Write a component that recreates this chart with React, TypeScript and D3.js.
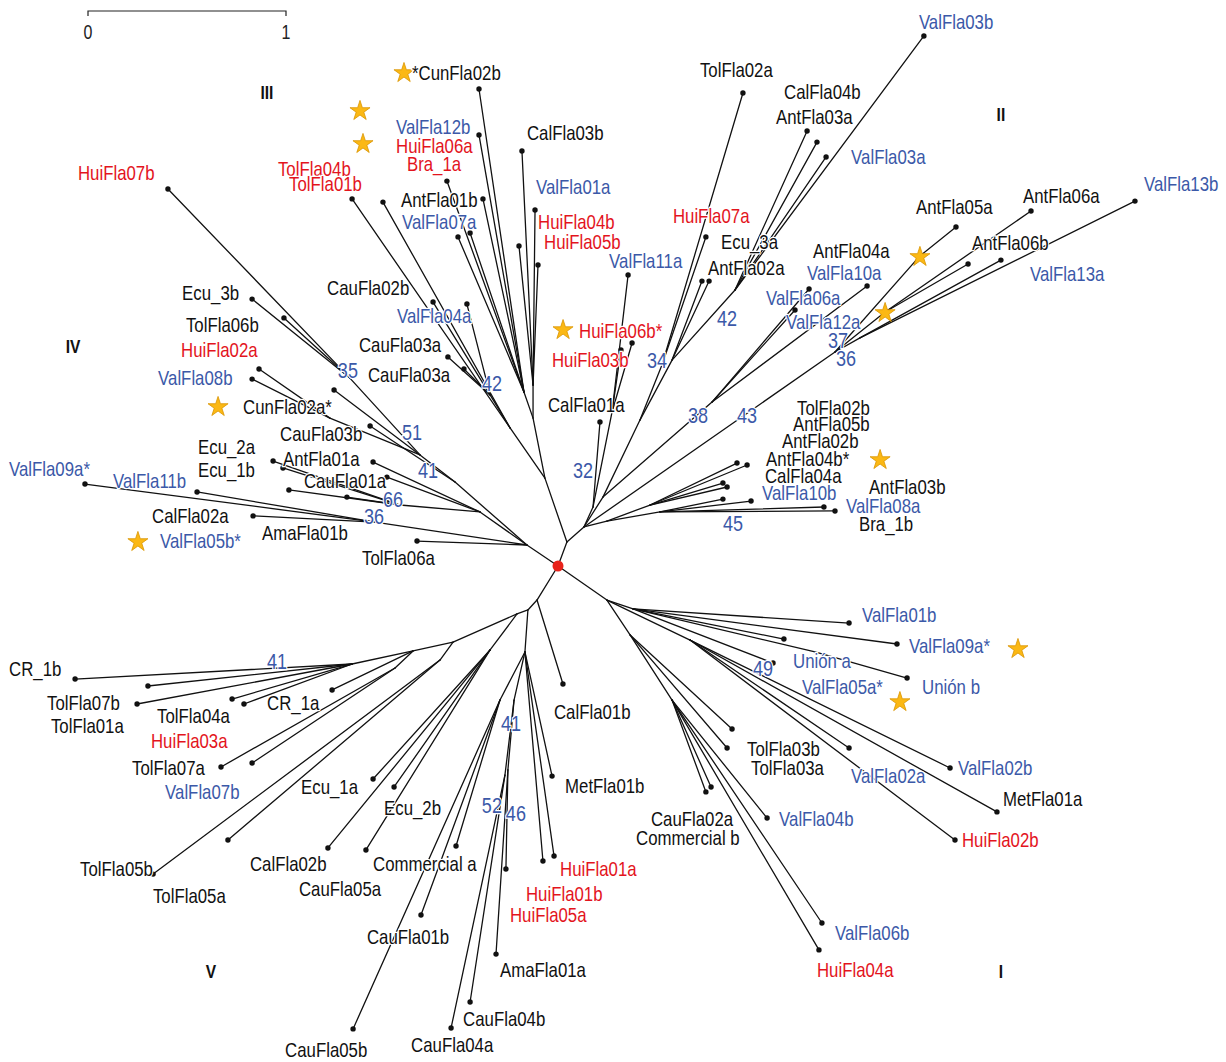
import React from 'react';
import * as d3 from 'd3';

// Unrooted flagellin tree. Each row: [id, parent, x, y], coordinates in
// substitutions per site measured from the root (y grows downwards).
type TreeRow = [string, string | null, number, number];

const treeNodes: TreeRow[] = [
  ['root', null, 0, 0],
  ['u1', 'root', 0.045, -0.121],
  // clade III
  ['n3', 'u1', -0.066, -0.444],
  ['n3up', 'n3', -0.126, -0.747],
  ['n3uA', 'n3up', -0.172, -0.879],
  ['CunFla02b', 'n3uA', -0.399, -2.409],
  ['ValFla12b', 'n3uA', -0.399, -2.177],
  ['AntFla01b', 'n3uA', -0.379, -1.854],
  ['Bra_1a', 'n3uA', -0.561, -1.944],
  ['ValFla07a', 'n3uA', -0.505, -1.662],
  ['tip07', 'n3uA', -0.444, -1.682],
  ['n3uB', 'n3up', -0.126, -0.914],
  ['CalFla03b', 'n3uB', -0.182, -2.096],
  ['ValFla01a', 'n3uB', -0.116, -1.798],
  ['HuiFla04b', 'n3uB', -0.197, -1.616],
  ['HuiFla05b', 'n3uB', -0.101, -1.52],
  ['n3left', 'n3', -0.242, -0.697],
  ['TolFla01b', 'n3left', -1.04, -1.854],
  ['TolFla04b', 'n3left', -0.884, -1.838],
  ['n3l2', 'n3left', -0.343, -0.864],
  ['CauFla02b', 'n3l2', -0.631, -1.333],
  ['ValFla04a', 'n3l2', -0.46, -1.323],
  ['CauFla03a', 'n3l2', -0.556, -1.056],
  ['CauFla03a_2', 'n3l2', -0.475, -0.995],
  // clade II
  ['c2', 'u1', 0.131, -0.197],
  ['c32', 'c2', 0.177, -0.298],
  ['CalFla01a', 'c32', 0.212, -0.727],
  ['c32b', 'c32', 0.273, -0.778],
  ['HuiFla06b', 'c32b', 0.374, -1.126],
  ['HuiFla03b', 'c32b', 0.318, -1.091],
  ['ValFla11a', 'c32b', 0.354, -1.47],
  ['cUp', 'c2', 0.227, -0.348],
  ['c34a', 'cUp', 0.414, -0.737],
  ['c34', 'c34a', 0.525, -1.015],
  ['TolFla02a', 'c34', 0.934, -2.389],
  ['HuiFla07a', 'c34', 0.747, -1.662],
  ['c42', 'c34a', 0.576, -1.04],
  ['AntFla02a', 'c42', 0.727, -1.439],
  ['Ecu_3a', 'c42', 0.763, -1.439],
  ['c42b', 'c42', 0.894, -1.394],
  ['CalFla04b', 'c42b', 1.258, -2.197],
  ['AntFla03a', 'c42b', 1.308, -2.141],
  ['ValFla03a', 'c42b', 1.354, -2.066],
  ['ValFla03b', 'c42b', 1.848, -2.677],
  ['c38', 'cUp', 0.778, -0.828],
  ['ValFla06a', 'c38', 1.197, -1.293],
  ['ValFla10a', 'c38', 1.268, -1.399],
  ['AntFla04a', 'c38', 1.561, -1.414],
  ['c43', 'c2', 1.399, -1.081],
  ['s43a', 'c43', 1.828, -1.566],
  ['AntFla05a', 's43a', 2.01, -1.712],
  ['s43b', 'c43', 1.652, -1.283],
  ['AntFla06b', 's43b', 2.071, -1.525],
  ['AntFla06a', 's43b', 2.389, -1.793],
  ['c43c', 'c43', 1.525, -1.152],
  ['ValFla13a', 'c43c', 2.237, -1.545],
  ['ValFla13b', 'c43c', 2.914, -1.843],
  ['c45', 'c2', 0.247, -0.227],
  ['c45a', 'c45', 0.465, -0.308],
  ['TolFla02b', 'c45a', 0.904, -0.52],
  ['AntFla05b', 'c45a', 0.955, -0.51],
  ['AntFla02b', 'c45a', 0.833, -0.419],
  ['AntFla04b', 'c45a', 0.854, -0.399],
  ['c45b', 'c45', 0.515, -0.273],
  ['CalFla04a', 'c45b', 0.833, -0.338],
  ['ValFla10b', 'c45b', 0.975, -0.328],
  ['AntFla03b', 'c45b', 1.343, -0.298],
  ['ValFla08a', 'c45b', 1.399, -0.278],
  // clade IV
  ['n4', 'root', -0.157, -0.106],
  ['TolFla06a', 'n4', -0.712, -0.126],
  ['n36', 'n4', -0.924, -0.222],
  ['ValFla09a', 'n36', -2.389, -0.414],
  ['ValFla11b', 'n36', -1.823, -0.374],
  ['CalFla02a', 'n36', -1.54, -0.253],
  ['n4b', 'n4', -0.394, -0.273],
  ['AntFla01a', 'n4b', -0.934, -0.525],
  ['CauFla01a', 'n4b', -0.864, -0.449],
  ['n66', 'n4b', -0.798, -0.308],
  ['Ecu_2a', 'n66', -1.439, -0.53],
  ['Ecu_1b', 'n66', -1.389, -0.495],
  ['ValFla05b', 'n66', -1.359, -0.384],
  ['AmaFla01b', 'n66', -1.066, -0.348],
  ['n41', 'n4', -0.52, -0.424],
  ['CauFla03b', 'n41', -0.949, -0.707],
  ['n51', 'n41', -0.697, -0.561],
  ['CunFla02a', 'n51', -1.131, -0.889],
  ['n08', 'n51', -1.152, -0.747],
  ['HuiFla02a', 'n08', -1.51, -0.995],
  ['ValFla08b', 'n08', -1.545, -0.944],
  ['n35', 'n51', -1.051, -0.949],
  ['HuiFla07b', 'n35', -1.97, -1.904],
  ['Ecu_3b', 'n35', -1.545, -1.348],
  ['TolFla06b', 'n35', -1.384, -1.253],
  // clade V
  ['b', 'root', -0.106, 0.172],
  ['CalFla01b', 'b', 0.025, 0.596],
  ['c', 'b', -0.152, 0.222],
  ['cl', 'c', -0.207, 0.242],
  ['v1', 'cl', -0.53, 0.384],
  ['v1a', 'v1', -0.732, 0.429],
  ['n41c', 'v1a', -1.04, 0.495],
  ['CR_1b', 'n41c', -2.439, 0.571],
  ['TolFla01a', 'n41c', -2.071, 0.606],
  ['TolFla07b', 'n41c', -2.126, 0.697],
  ['TolFla04a', 'n41c', -1.646, 0.672],
  ['HuiFla03a', 'n41c', -1.586, 0.697],
  ['CR_1a', 'v1a', -1.141, 0.626],
  ['v1b', 'v1a', -0.823, 0.515],
  ['TolFla07a', 'v1b', -1.702, 1.015],
  ['ValFla07b', 'v1b', -1.545, 0.995],
  ['v1c', 'v1', -0.596, 0.475],
  ['TolFla05b', 'v1c', -2.045, 1.556],
  ['TolFla05a', 'v1c', -1.667, 1.384],
  ['v2', 'cl', -0.343, 0.424],
  ['Ecu_1a', 'v2', -0.934, 1.076],
  ['Ecu_2b', 'v2', -0.828, 1.116],
  ['CalFla02b', 'v2', -1.162, 1.424],
  ['CauFla05a', 'v2', -0.97, 1.434],
  ['cd', 'c', -0.167, 0.434],
  ['MetFla01b', 'cd', -0.03, 1.061],
  ['HuiFla01a', 'cd', -0.02, 1.465],
  ['HuiFla01b', 'cd', -0.076, 1.49],
  ['cd2', 'cd', -0.293, 0.677],
  ['CommercialA', 'cd2', -0.515, 1.414],
  ['CauFla01b', 'cd2', -0.692, 1.763],
  ['CauFla05b', 'cd2', -1.035, 2.338],
  ['n41d', 'cd', -0.222, 0.677],
  ['n46', 'n41d', -0.253, 1.03],
  ['HuiFla05a', 'n46', -0.263, 1.53],
  ['AmaFla01a', 'n46', -0.313, 1.96],
  ['n52', 'n41d', -0.268, 1.056],
  ['CauFla04b', 'n52', -0.444, 2.202],
  ['CauFla04a', 'n52', -0.54, 2.333],
  // clade I
  ['d', 'root', 0.247, 0.172],
  ['d1', 'd', 0.379, 0.217],
  ['ValFla01b', 'd1', 1.47, 0.288],
  ['ValFla09a_b', 'd1', 1.712, 0.394],
  ['ValFla05a', 'd1', 1.141, 0.369],
  ['UnionA', 'd1', 1.086, 0.49],
  ['nUb', 'd1', 1.298, 0.434],
  ['UnionB', 'nUb', 1.763, 0.566],
  ['n49', 'd', 0.667, 0.374],
  ['ValFla02a', 'n49', 1.47, 0.919],
  ['ValFla02b', 'n49', 1.98, 1.02],
  ['MetFla01a', 'n49', 2.217, 1.242],
  ['HuiFla02b', 'n49', 2.005, 1.384],
  ['d2', 'd', 0.364, 0.348],
  ['TolFla03b', 'd2', 0.879, 0.823],
  ['TolFla03a', 'd2', 0.854, 0.919],
  ['d2a', 'd2', 0.576, 0.677],
  ['CauFla02a', 'd2a', 0.747, 1.141],
  ['CommercialB', 'd2a', 0.773, 1.116],
  ['ValFla04b', 'd2a', 1.056, 1.273],
  ['ValFla06b', 'd2a', 1.333, 1.803],
  ['HuiFla04a', 'd2a', 1.318, 1.939],
];

// Tip names: [text, tip node]
const tipLabels: [string, string][] = [
  ['*CunFla02b', 'CunFla02b'], ['ValFla12b', 'ValFla12b'], ['HuiFla06a', 'ValFla12b'],
  ['Bra_1a', 'Bra_1a'], ['CalFla03b', 'CalFla03b'], ['ValFla01a', 'ValFla01a'],
  ['HuiFla07b', 'HuiFla07b'], ['TolFla04b', 'TolFla04b'], ['TolFla01b', 'TolFla01b'],
  ['AntFla01b', 'AntFla01b'], ['ValFla07a', 'ValFla07a'], ['HuiFla04b', 'HuiFla04b'],
  ['HuiFla05b', 'HuiFla05b'], ['ValFla11a', 'ValFla11a'], ['TolFla02a', 'TolFla02a'],
  ['CalFla04b', 'CalFla04b'], ['AntFla03a', 'AntFla03a'], ['ValFla03b', 'ValFla03b'],
  ['ValFla03a', 'ValFla03a'], ['ValFla13b', 'ValFla13b'], ['AntFla05a', 'AntFla05a'],
  ['AntFla06a', 'AntFla06a'], ['HuiFla07a', 'HuiFla07a'], ['Ecu_3a', 'Ecu_3a'],
  ['AntFla02a', 'AntFla02a'], ['AntFla04a', 'AntFla04a'], ['ValFla10a', 'ValFla10a'],
  ['AntFla06b', 'AntFla06b'], ['ValFla13a', 'ValFla13a'], ['ValFla06a', 'ValFla06a'],
  ['ValFla12a', 'ValFla06a'], ['Ecu_3b', 'Ecu_3b'], ['CauFla02b', 'CauFla02b'],
  ['TolFla06b', 'TolFla06b'], ['ValFla04a', 'ValFla04a'], ['HuiFla06b*', 'HuiFla06b'],
  ['HuiFla02a', 'HuiFla02a'], ['CauFla03a', 'CauFla03a'], ['CauFla03a', 'CauFla03a_2'],
  ['HuiFla03b', 'HuiFla03b'], ['ValFla08b', 'ValFla08b'], ['CunFla02a*', 'CunFla02a'],
  ['CalFla01a', 'CalFla01a'], ['TolFla02b', 'TolFla02b'], ['AntFla05b', 'AntFla05b'],
  ['AntFla02b', 'AntFla02b'], ['AntFla04b*', 'AntFla04b'], ['CalFla04a', 'CalFla04a'],
  ['ValFla10b', 'ValFla10b'], ['AntFla03b', 'AntFla03b'], ['ValFla08a', 'ValFla08a'],
  ['Bra_1b', 'ValFla08a'], ['CauFla03b', 'CauFla03b'], ['Ecu_2a', 'Ecu_2a'],
  ['Ecu_1b', 'Ecu_1b'], ['AntFla01a', 'AntFla01a'], ['CauFla01a', 'CauFla01a'],
  ['ValFla09a*', 'ValFla09a'], ['ValFla11b', 'ValFla11b'], ['CalFla02a', 'CalFla02a'],
  ['ValFla05b*', 'ValFla05b'], ['AmaFla01b', 'AmaFla01b'], ['TolFla06a', 'TolFla06a'],
  ['ValFla01b', 'ValFla01b'], ['ValFla09a*', 'ValFla09a_b'], ['Unión a', 'UnionA'],
  ['Unión b', 'UnionB'], ['ValFla05a*', 'ValFla05a'], ['TolFla03b', 'TolFla03b'],
  ['TolFla03a', 'TolFla03a'], ['ValFla02a', 'ValFla02a'], ['ValFla02b', 'ValFla02b'],
  ['MetFla01a', 'MetFla01a'], ['CauFla02a', 'CauFla02a'], ['Commercial b', 'CommercialB'],
  ['ValFla04b', 'ValFla04b'], ['HuiFla02b', 'HuiFla02b'], ['ValFla06b', 'ValFla06b'],
  ['HuiFla04a', 'HuiFla04a'], ['CalFla01b', 'CalFla01b'], ['MetFla01b', 'MetFla01b'],
  ['HuiFla01a', 'HuiFla01a'], ['HuiFla01b', 'HuiFla01b'], ['HuiFla05a', 'HuiFla05a'],
  ['AmaFla01a', 'AmaFla01a'], ['CauFla04b', 'CauFla04b'], ['CauFla04a', 'CauFla04a'],
  ['CauFla05b', 'CauFla05b'], ['CauFla01b', 'CauFla01b'], ['Commercial a', 'CommercialA'],
  ['Ecu_2b', 'Ecu_2b'], ['Ecu_1a', 'Ecu_1a'], ['CalFla02b', 'CalFla02b'],
  ['CauFla05a', 'CauFla05a'], ['TolFla05b', 'TolFla05b'], ['TolFla05a', 'TolFla05a'],
  ['ValFla07b', 'ValFla07b'], ['TolFla07a', 'TolFla07a'], ['HuiFla03a', 'HuiFla03a'],
  ['TolFla04a', 'TolFla04a'], ['CR_1a', 'CR_1a'], ['TolFla07b', 'TolFla07b'],
  ['TolFla01a', 'TolFla01a'], ['CR_1b', 'CR_1b'],
];

// Names printed in red besides the Hui* isolates
const redNames = ['TolFla04b', 'TolFla01b', 'Bra_1a'];

// Bootstrap support: [value, node]
const bootstrapValues: [number, string][] = [
  [35, 'n35'], [51, 'n51'], [41, 'n41'], [66, 'n66'], [36, 'n36'], [42, 'n3l2'],
  [32, 'c32'], [34, 'c34'], [42, 'c42'], [38, 'c38'], [43, 'c2'], [37, 'c43'],
  [36, 'c43'], [45, 'c45b'], [49, 'n49'], [41, 'n41c'], [41, 'n41d'], [52, 'n46'],
  [46, 'n46'],
];

// Clade numerals: [name, x, y] in tree units
const cladeNames: [string, number, number][] = [
  ['III', -1.47, -2.394], ['II', 2.237, -2.283], ['IV', -2.449, -1.111],
  ['V', -1.753, 2.045], ['I', 2.237, 2.045],
];

const scaleBarTicks = [0, 1];

// ---- layout -------------------------------------------------------------
const W = 1226;
const H = 1062;
const UNIT = 198; // pixels per substitution/site
const ROOT_X = 558;
const ROOT_Y = 566;
const BLUE = '#3b59a8';
const RED = '#e3141d';
const STAR_FILL = '#fbb814';
const STAR_STROKE = '#d99400';
const FONT = "'Liberation Sans', Arial, Helvetica, sans-serif";
const SQUEEZE = 0.82;

// label left edge / baseline relative to its tip, in px
const labelShift: Record<string, [number, number]> = {
  'CunFla02b|*CunFla02b': [-67, -9], 'ValFla12b|ValFla12b': [-83, -1], 'ValFla12b|HuiFla06a': [-83, 18],
  'Bra_1a|Bra_1a': [-40, -10], 'CalFla03b|CalFla03b': [5, -11], 'ValFla01a|ValFla01a': [1, -16],
  'HuiFla07b|HuiFla07b': [-90, -9], 'TolFla04b|TolFla04b': [-105, -26], 'TolFla01b|TolFla01b': [-63, -8],
  'AntFla01b|AntFla01b': [-82, 8], 'ValFla07a|ValFla07a': [-56, -8], 'HuiFla04b|HuiFla04b': [19, -17],
  'HuiFla05b|HuiFla05b': [6, -16], 'ValFla11a|ValFla11a': [-19, -7], 'TolFla02a|TolFla02a': [-43, -16],
  'CalFla04b|CalFla04b': [-23, -32], 'AntFla03a|AntFla03a': [-41, -18], 'ValFla03b|ValFla03b': [-5, -7],
  'ValFla03a|ValFla03a': [25, 7], 'ValFla13b|ValFla13b': [9, -10], 'AntFla05a|AntFla05a': [-40, -13],
  'AntFla06a|AntFla06a': [-8, -8], 'HuiFla07a|HuiFla07a': [-33, -14], 'Ecu_3a|Ecu_3a': [12, -32],
  'AntFla02a|AntFla02a': [6, -6], 'AntFla04a|AntFla04a': [-54, -28], 'ValFla10a|ValFla10a': [-2, -9],
  'AntFla06b|AntFla06b': [4, -14], 'ValFla13a|ValFla13a': [29, 21], 'ValFla06a|ValFla06a': [-29, -5],
  'ValFla06a|ValFla12a': [-9, 19], 'Ecu_3b|Ecu_3b': [-70, 1], 'CauFla02b|CauFla02b': [-106, -7],
  'TolFla06b|TolFla06b': [-98, 14], 'ValFla04a|ValFla04a': [-70, 19], 'HuiFla06b|HuiFla06b*': [-53, -5],
  'HuiFla02a|HuiFla02a': [-78, -12], 'CauFla03a|CauFla03a': [-89, -5], 'CauFla03a_2|CauFla03a': [-96, 13],
  'HuiFla03b|HuiFla03b': [-69, 17], 'ValFla08b|ValFla08b': [-94, 6], 'CunFla02a|CunFla02a*': [-91, 24],
  'CalFla01a|CalFla01a': [-52, -10], 'TolFla02b|TolFla02b': [60, -48], 'AntFla05b|AntFla05b': [46, -34],
  'AntFla02b|AntFla02b': [59, -35], 'AntFla04b|AntFla04b*': [39, -21], 'CalFla04a|CalFla04a': [42, -16],
  'ValFla10b|ValFla10b': [11, -1], 'AntFla03b|AntFla03b': [45, -13], 'ValFla08a|ValFla08a': [11, 2],
  'ValFla08a|Bra_1b': [24, 20], 'CauFla03b|CauFla03b': [-90, 15], 'Ecu_2a|Ecu_2a': [-75, -7],
  'Ecu_1b|Ecu_1b': [-85, 9], 'AntFla01a|AntFla01a': [-90, 4], 'CauFla01a|CauFla01a': [-83, 11],
  'ValFla09a|ValFla09a*': [-76, -8], 'ValFla11b|ValFla11b': [-84, -4], 'CalFla02a|CalFla02a': [-101, 7],
  'ValFla05b|ValFla05b*': [-129, 58], 'AmaFla01b|AmaFla01b': [-85, 43], 'TolFla06a|TolFla06a': [-55, 24],
  'ValFla01b|ValFla01b': [13, -1], 'ValFla09a_b|ValFla09a*': [12, 9], 'UnionA|Unión a': [20, 5],
  'UnionB|Unión b': [15, 16], 'ValFla05a|ValFla05a*': [18, 55], 'TolFla03b|TolFla03b': [15, 27],
  'TolFla03a|TolFla03a': [24, 27], 'ValFla02a|ValFla02a': [2, 35], 'ValFla02b|ValFla02b': [8, 7],
  'MetFla01a|MetFla01a': [6, -6], 'CauFla02a|CauFla02a': [-55, 34], 'CommercialB|Commercial b': [-75, 58],
  'ValFla04b|ValFla04b': [12, 8], 'HuiFla02b|HuiFla02b': [7, 7], 'ValFla06b|ValFla06b': [13, 17],
  'HuiFla04a|HuiFla04a': [-2, 27], 'CalFla01b|CalFla01b': [-9, 35], 'MetFla01b|MetFla01b': [13, 17],
  'HuiFla01a|HuiFla01a': [6, 20], 'HuiFla01b|HuiFla01b': [-17, 40], 'HuiFla05a|HuiFla05a': [4, 53],
  'AmaFla01a|AmaFla01a': [4, 23], 'CauFla04b|CauFla04b': [-7, 24], 'CauFla04a|CauFla04a': [-40, 24],
  'CauFla05b|CauFla05b': [-68, 28], 'CauFla01b|CauFla01b': [-54, 29], 'CommercialA|Commercial a': [-83, 25],
  'Ecu_2b|Ecu_2b': [-10, 28], 'Ecu_1a|Ecu_1a': [-72, 15], 'CalFla02b|CalFla02b': [-78, 23],
  'CauFla05a|CauFla05a': [-67, 46], 'TolFla05b|TolFla05b': [-73, 2], 'TolFla05a|TolFla05a': [-75, 63],
  'ValFla07b|ValFla07b': [-87, 36], 'TolFla07a|TolFla07a': [-89, 8], 'HuiFla03a|HuiFla03a': [-93, 44],
  'TolFla04a|TolFla04a': [-75, 24], 'CR_1a|CR_1a': [-65, 20], 'TolFla07b|TolFla07b': [-90, 6],
  'TolFla01a|TolFla01a': [-97, 47], 'CR_1b|CR_1b': [-66, -3],
};

// bootstrap label centre relative to its node, in px
const bootShift: Record<string, [number, number]> = {
  'n35|35': [-2, -8], 'n51|51': [-8, -23], 'n41|41': [-27, -12], 'n66|66': [-7, -6],
  'n36|36': [-1, -6], 'n3l2|42': [2, -12], 'c32|32': [-10, -37], 'c34|34': [-5, -5],
  'c42|42': [55, -42], 'c38|38': [-14, 13], 'c2|43': [163, -112], 'c43|37': [3, -12],
  'c43|36': [11, 6], 'c45b|45': [73, 11], 'n49|49': [73, 28], 'n41c|41': [-75, -3],
  'n41d|41': [-3, 23], 'n46|52': [-16, 35], 'n46|46': [8, 43],
};

// stars: [node, dx, dy] in px
const starMarks: [string, number, number][] = [
  ['CunFla02b', -75, -17], ['ValFla12b', -119, -25], ['ValFla12b', -116, 8],
  ['HuiFla06b', -69, -14], ['CunFla02a', -116, 16], ['ValFla05b', -151, 51],
  ['AntFla04b', 153, -28], ['ValFla09a_b', 121, 4], ['ValFla05a', 116, 62],
  ['s43a', 0, 0], ['s43b', 0, 0],
];

function labelColor(text: string): string {
  const name = text.replace(/\*/g, '');
  if (name.startsWith('Hui') || redNames.includes(name)) return RED;
  if (name.startsWith('Val') || name.startsWith('Unión')) return BLUE;
  return '#111';
}

export default function App() {
  const x = d3.scaleLinear().domain([0, 1]).range([ROOT_X, ROOT_X + UNIT]);
  const y = d3.scaleLinear().domain([0, 1]).range([ROOT_Y, ROOT_Y + UNIT]);
  const bar = d3.scaleLinear().domain([0, 1]).range([88, 88 + UNIT]);

  const byId = new Map<string, TreeRow>(treeNodes.map((n) => [n[0], n]));
  const parentIds = new Set(treeNodes.map((n) => n[1]).filter(Boolean) as string[]);
  const edges = treeNodes
    .filter((n) => n[1] !== null)
    .map((n) => {
      const p = byId.get(n[1] as string)!;
      return { id: n[0], x1: x(p[2]), y1: y(p[3]), x2: x(n[2]), y2: y(n[3]) };
    });
  const tips = treeNodes.filter((n) => !parentIds.has(n[0]));
  const px = (id: string) => {
    const n = byId.get(id)!;
    return [x(n[2]), y(n[3])];
  };
  const starPath = d3.symbol().type(d3.symbolStar).size(125)() as string;

  const textProps = {
    fontFamily: FONT,
    fontSize: 20.5,
  };

  return (
    <svg
      width={W}
      height={H}
      style={{ position: 'absolute', left: 0, top: 0, display: 'block', background: '#fff' }}
    >
      <rect width={W} height={H} fill="#fff" />

      {/* scale bar */}
      <g>
        <path
          d={`M${bar(0)},16V11H${bar(1)}V16`}
          fill="none"
          stroke="#222"
          strokeWidth={1.2}
        />
        {scaleBarTicks.map((t) => (
          <text
            key={t}
            transform={`translate(${bar(t)},39) scale(${SQUEEZE},1)`}
            textAnchor="middle"
            fill="#222"
            {...textProps}
            fontSize={19.5}
          >
            {t}
          </text>
        ))}
      </g>

      {/* branches */}
      <g stroke="#111" strokeWidth={1.3} strokeLinecap="round">
        {edges.map((e) => (
          <line key={e.id} x1={e.x1} y1={e.y1} x2={e.x2} y2={e.y2} />
        ))}
      </g>

      {/* tips */}
      <g fill="#111">
        {tips.map((t) => (
          <circle key={t[0]} cx={x(t[2])} cy={y(t[3])} r={2.7} />
        ))}
      </g>

      <circle cx={x(0)} cy={y(0)} r={5.5} fill="#e8231b" />

      {/* stars */}
      <g fill={STAR_FILL} stroke={STAR_STROKE} strokeWidth={0.8}>
        {starMarks.map(([id, dx, dy], i) => {
          const [sx, sy] = px(id);
          return <path key={i} d={starPath} transform={`translate(${sx + dx},${sy + dy + 1})`} />;
        })}
      </g>

      {/* tip names */}
      <g {...textProps}>
        {tipLabels.map(([text, tip]) => {
          const [tx, ty] = px(tip);
          const [dx, dy] = labelShift[`${tip}|${text}`] || [6, 6];
          return (
            <text
              key={`${tip}|${text}`}
              transform={`translate(${tx + dx},${ty + dy}) scale(${SQUEEZE},1)`}
              fill={labelColor(text)}
              stroke="#fff"
              strokeWidth={2.5}
              paintOrder="stroke"
            >
              {text}
            </text>
          );
        })}
      </g>

      {/* bootstrap support */}
      <g fontFamily={FONT} fontSize={22} fill={BLUE}>
        {bootstrapValues.map(([v, node]) => {
          const [nx, ny] = px(node);
          const [dx, dy] = bootShift[`${node}|${v}`] || [0, 0];
          return (
            <text
              key={`${node}|${v}`}
              transform={`translate(${nx + dx},${ny + dy + 8}) scale(${SQUEEZE},1)`}
              textAnchor="middle"
              stroke="#fff"
              strokeWidth={2.5}
              paintOrder="stroke"
            >
              {v}
            </text>
          );
        })}
      </g>

      {/* clade numerals */}
      <g fontFamily={FONT} fontSize={19} fontWeight="bold" fill="#111">
        {cladeNames.map(([name, cx, cy]) => (
          <text
            key={name}
            transform={`translate(${x(cx)},${y(cy) + 7}) scale(${SQUEEZE},1)`}
            textAnchor="middle"
          >
            {name}
          </text>
        ))}
      </g>
    </svg>
  );
}
